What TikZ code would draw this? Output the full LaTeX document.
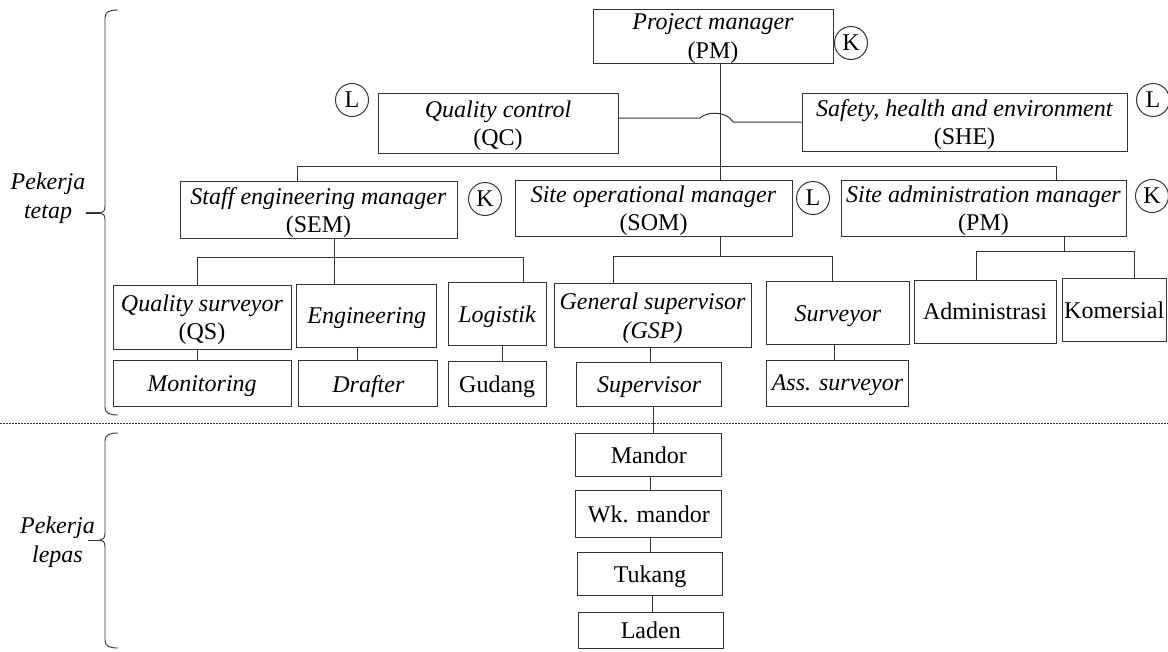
\documentclass[tikz,border=0pt]{standalone}
\usepackage{fontspec}
\setmainfont{Liberation Serif}
\definecolor{ln}{gray}{0.2}
\begin{document}
\begin{tikzpicture}[x=1pt,y=-1pt,
  every node/.style={font=\fontsize{24}{28.5}\selectfont},
  box/.style={draw=ln, line width=1pt, inner sep=0pt, align=center, text depth=0pt},
  circ/.style={draw=ln, line width=1pt, circle, minimum size=33pt, inner sep=0pt},
  conn/.style={draw=ln, line width=1pt},
  lbl/.style={align=center, font=\fontsize{24}{28.5}\selectfont\itshape}]
\useasboundingbox (0,0) rectangle (1168,651);

% top level
\node[box, minimum width=240pt, minimum height=54pt] (PM) at (713,36) {\textit{Project manager}\\(PM)};
\node[circ] (cPM) at (851,43) {K};
\node[box, minimum width=240pt, minimum height=60pt] (QC) at (498,123) {\textit{Quality control}\\(QC)};
\node[circ] (cQC) at (352,100) {L};
\node[box, minimum width=325pt, minimum height=58pt] (SHE) at (964.5,122) {\textit{Safety, health and environment}\\(SHE)};
\node[circ] (cSHE) at (1153,100) {L};

% second level
\node[box, minimum width=277pt, minimum height=57pt] (SEM) at (318.5,210) {\textit{Staff engineering manager}\\(SEM)};
\node[circ] (cSEM) at (485,199) {K};
\node[box, minimum width=277pt, minimum height=56pt] (SOM) at (653.5,208) {\textit{Site operational manager}\\(SOM)};
\node[circ] (cSOM) at (813,198) {L};
\node[box, minimum width=285pt, minimum height=56pt] (SAM) at (983.5,208) {\textit{Site administration manager}\\(PM)};
\node[circ] (cSAM) at (1152,196) {K};

% third level
\node[box, minimum width=178pt, minimum height=64pt] (QS) at (202,317) {\textit{Quality surveyor}\\(QS)};
\node[box, minimum width=140pt, minimum height=63pt] (ENG) at (366.7,315.7) {\textit{Engineering}};
\node[box, minimum width=98pt, minimum height=63pt] (LOG) at (497.2,314.4) {\textit{Logistik}};
\node[box, minimum width=178pt, minimum height=46pt] (MON) at (202,383.7) {\textit{Monitoring}};
\node[box, minimum width=139pt, minimum height=46pt] (DRA) at (368.4,383.7) {\textit{Drafter}};
\node[box, minimum width=98pt, minimum height=45pt] (GUD) at (497.2,384.3) {Gudang};

\node[box, minimum width=197pt, minimum height=64pt] (GSP) at (652.6,315.5) {\textit{General supervisor}\\\textit{(GSP)}};
\node[box, minimum width=143pt, minimum height=63pt] (SUR) at (838,313.4) {\textit{Surveyor}};
\node[box, minimum width=145pt, minimum height=44pt] (SUP) at (649.2,384.2) {\textit{Supervisor}};
\node[box, minimum width=142pt, minimum height=46pt] (ASS) at (837.5,383) {\textit{Ass. surveyor}};

\node[box, minimum width=142pt, minimum height=63pt] (ADM) at (985,311.5) {Administrasi};
\node[box, minimum width=104pt, minimum height=63pt] (KOM) at (1114.2,309.7) {Komersial};

% lower chain
\node[box, minimum width=146pt, minimum height=43pt] (MAN) at (648.9,454.7) {Mandor};
\node[box, minimum width=146pt, minimum height=47pt] (WK) at (648.9,514) {Wk. mandor};
\node[box, minimum width=145pt, minimum height=43pt] (TUK) at (650,573.7) {Tukang};
\node[box, minimum width=145pt, minimum height=36pt] (LAD) at (650.8,630.3) {Laden};

% side labels
\node[lbl] (tetap) at (48,198) {Pekerja\\tetap};
\node[lbl] (lepas) at (57.5,542) {Pekerja\\lepas};

% junction coordinates
\coordinate (vPM) at (720,100);
\coordinate (h1) at (700,118);
\coordinate (h2) at (733,122);
\coordinate (j1) at (297,166.7);
\coordinate (j2) at (1056,166.7);
\coordinate (s0) at (334,257.3);
\coordinate (s1) at (197,257.3);
\coordinate (s2) at (523,257.3);
\coordinate (e0) at (357.7,350);
\coordinate (g0) at (502.3,350);
\coordinate (o0) at (720,256.7);
\coordinate (o1) at (613.3,256.7);
\coordinate (o2) at (832.7,256.7);
\coordinate (p0) at (650,350);
\coordinate (q0) at (834.3,350);
\coordinate (a0) at (1064,251.7);
\coordinate (a1) at (976,251.7);
\coordinate (a2) at (1134.3,251.7);
\coordinate (m0) at (653,420);
\coordinate (m1) at (650.7,480);
\coordinate (m2) at (652.7,600);

% connectors
\draw[conn] (PM.south -| vPM) -- (SOM.north -| vPM);
\draw[conn] (QC.east |- h1) -- (h1) .. controls (707,111) and (727,111) .. (h2) -- (SHE.west |- h2);
\draw[conn] (SEM.north -| j1) -- (j1) -- (j2) -- (SAM.north -| j2);

\draw[conn] (SEM.south -| s0) -- (ENG.north -| s0);
\draw[conn] (QS.north -| s1) -- (s1) -- (s2) -- (LOG.north -| s2);
\draw[conn] (QS.south -| s1) -- (MON.north -| s1);
\draw[conn] (ENG.south -| e0) -- (DRA.north -| e0);
\draw[conn] (LOG.south -| g0) -- (GUD.north -| g0);

\draw[conn] (SOM.south -| o0) -- (o0);
\draw[conn] (GSP.north -| o1) -- (o1) -- (o2) -- (SUR.north -| o2);
\draw[conn] (GSP.south -| p0) -- (SUP.north -| p0);
\draw[conn] (SUR.south -| q0) -- (ASS.north -| q0);

\draw[conn] (SAM.south -| a0) -- (a0);
\draw[conn] (ADM.north -| a1) -- (a1) -- (a2) -- (KOM.north -| a2);

\draw[conn] (SUP.south -| m0) -- (MAN.north -| m0);
\draw[conn] (MAN.south -| m1) -- (WK.north -| m1);
\draw[conn] (WK.south -| m1) -- (TUK.north -| m1);
\draw[conn] (TUK.south -| m2) -- (LAD.north -| m2);

% separator
\draw[draw=ln, line width=0.8pt, dash pattern=on 1.5pt off 1.5pt] (0,423) -- (1168,423);

% braces
\draw[conn, line width=0.9pt] (118,10) .. controls (109,10) and (105,12) .. (105,18) -- (105,206)
  .. controls (105,211) and (103,213) .. (100,213) .. controls (103,213) and (105,215) .. (105,220)
  -- (105,407) .. controls (105,413) and (109,415) .. (118,415);
\draw[conn, line width=1.2pt] (86,213) -- (100,213);
\draw[conn, line width=0.9pt] (118,433) .. controls (109,433) and (105,435) .. (105,441) -- (105,533)
  .. controls (105,538) and (103,540) .. (100,540) .. controls (103,540) and (105,542) .. (105,547)
  -- (105,640) .. controls (105,646) and (109,648) .. (118,648);
\draw[conn, line width=1.2pt] (88,540.5) -- (100,540.5);
\end{tikzpicture}
\end{document}
